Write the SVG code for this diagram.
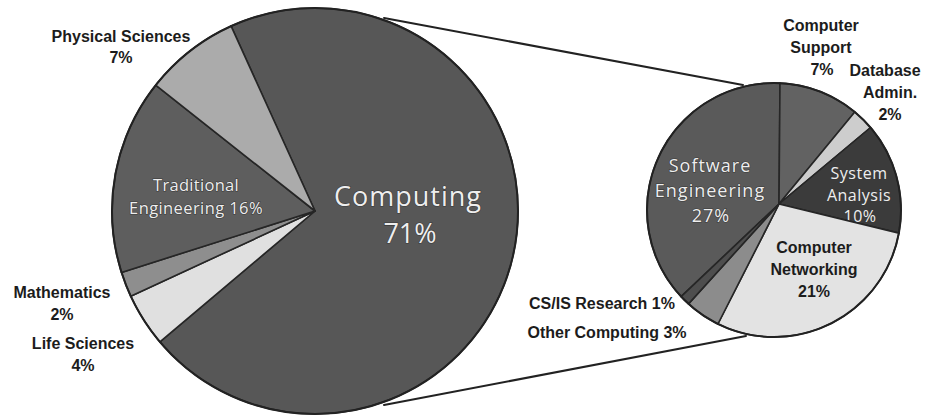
<svg xmlns="http://www.w3.org/2000/svg" width="926" height="416" viewBox="0 0 926 416">
  <style>
    .slice { stroke: #262626; stroke-width: 1.6; stroke-linejoin: round; }
    .rim { fill: none; stroke: #222; stroke-width: 2; }
    .dark { font-family: "Liberation Sans", Arial, sans-serif; font-weight: bold; font-size: 16px; fill: #1c1c1c; text-anchor: middle; }
    .light { font-family: "Open Sans", "Liberation Sans", sans-serif; fill: #eeeeee; text-anchor: middle; stroke: #3a3a3a; stroke-width: 1.2; paint-order: stroke; }
    .link { stroke: #222; stroke-width: 2; fill: none; stroke-linecap: round; }
  </style>

  <!-- zoom connectors from the Computing slice to the breakdown pie -->
  <g id="connectors">
    <line class="link" x1="384" y1="18" x2="743" y2="85"/>
    <line class="link" x1="384" y1="405" x2="746" y2="336"/>
  </g>

  <!-- main pie: all fields, centre (315,211), r 203 -->
  <g id="computing">
    <path class="slice" fill="#575757" d="M315,211 L231.1,26.1 A203,203 0 1 1 159.9,341.9 Z"/>
    <text class="light" x="408" y="206" font-size="27" letter-spacing="1">Computing</text>
    <text class="light" x="410" y="243" font-size="27">71%</text>
  </g>
  <g id="life-sciences">
    <path class="slice" fill="#e0e0e0" d="M315,211 L159.9,341.9 A203,203 0 0 1 130.7,296.2 Z"/>
    <text class="dark" x="83" y="349" font-size="15.5">Life Sciences</text>
    <text class="dark" x="83" y="371">4%</text>
  </g>
  <g id="mathematics">
    <path class="slice" fill="#8e8e8e" d="M315,211 L130.7,296.2 A203,203 0 0 1 121.5,272.4 Z"/>
    <text class="dark" x="62" y="298">Mathematics</text>
    <text class="dark" x="62" y="320">2%</text>
  </g>
  <g id="traditional-engineering">
    <path class="slice" fill="#5e5e5e" d="M315,211 L121.5,272.4 A203,203 0 0 1 155.7,85.2 Z"/>
    <text class="light" x="196" y="191" font-size="16.5" letter-spacing="0.3">Traditional</text>
    <text class="light" x="196" y="214" font-size="16.5" letter-spacing="0.4">Engineering 16%</text>
  </g>
  <g id="physical-sciences">
    <path class="slice" fill="#ababab" d="M315,211 L155.7,85.2 A203,203 0 0 1 231.1,26.1 Z"/>
    <text class="dark" x="121" y="42" font-size="15.5">Physical Sciences</text>
    <text class="dark" x="121" y="63">7%</text>
  </g>
  <circle class="rim" cx="315" cy="211" r="203"/>

  <!-- breakdown pie: computing sub-fields, centre (774,210), r 127 -->
  <g id="software-engineering">
    <path class="slice" fill="#5a5a5a" d="M779,204 L681.1,296.6 A127,127 0 0 1 780,83.1 Z"/>
    <text class="light" x="710" y="172" font-size="18" letter-spacing="1">Software</text>
    <text class="light" x="710" y="197" font-size="18" letter-spacing="1">Engineering</text>
    <text class="light" x="711" y="222" font-size="18" letter-spacing="1">27%</text>
  </g>
  <g id="computer-support">
    <path class="slice" fill="#626262" d="M779,204 L780,83.1 A127,127 0 0 1 854.8,112 Z"/>
    <text class="dark" x="821" y="31" font-size="16.5">Computer</text>
    <text class="dark" x="821" y="53" font-size="16.5">Support</text>
    <text class="dark" x="822" y="75">7%</text>
  </g>
  <g id="database-admin">
    <path class="slice" fill="#cdcdcd" d="M779,204 L854.8,112 A127,127 0 0 1 870.6,127.5 Z"/>
    <text class="dark" x="885" y="76" font-size="14.5">Database</text>
    <text class="dark" x="890" y="98" font-size="15.5">Admin.</text>
    <text class="dark" x="890" y="120" font-size="15">2%</text>
  </g>
  <g id="system-analysis">
    <path class="slice" fill="#3b3b3b" d="M779,204 L870.6,127.5 A127,127 0 0 1 898.9,233.1 Z"/>
    <text class="light" x="859" y="178.5" font-size="16" letter-spacing="0.5">System</text>
    <text class="light" x="859" y="200.5" font-size="16" letter-spacing="0.5">Analysis</text>
    <text class="light" x="860" y="222" font-size="16" letter-spacing="0.5">10%</text>
  </g>
  <g id="computer-networking">
    <path class="slice" fill="#e3e3e3" d="M779,204 L898.9,233.1 A127,127 0 0 1 717.9,324 Z"/>
    <text class="dark" x="814" y="253">Computer</text>
    <text class="dark" x="814" y="275">Networking</text>
    <text class="dark" x="814" y="297">21%</text>
  </g>
  <g id="other-computing">
    <path class="slice" fill="#8c8c8c" d="M779,204 L717.9,324 A127,127 0 0 1 688.5,303.9 Z"/>
    <text class="dark" x="607" y="338" font-size="16.5">Other Computing 3%</text>
  </g>
  <g id="cs-is-research">
    <path class="slice" fill="#4e4e4e" d="M779,204 L688.5,303.9 A127,127 0 0 1 681.1,296.6 Z"/>
    <text class="dark" x="602" y="309">CS/IS Research 1%</text>
  </g>
  <circle class="rim" cx="774" cy="210" r="127"/>
</svg>
